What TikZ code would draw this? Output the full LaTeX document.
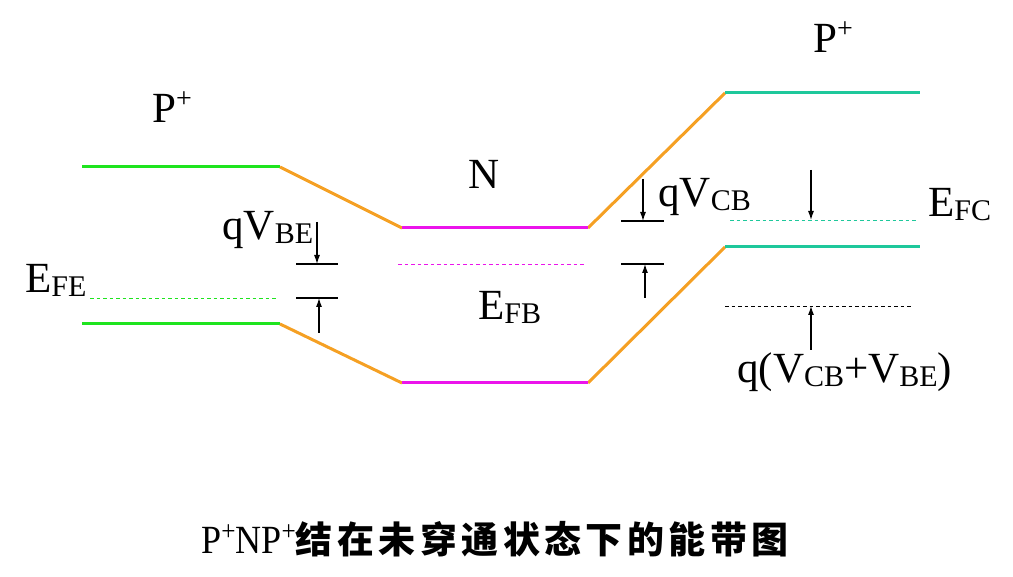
\documentclass[tikz,border=0pt]{standalone}
\usepackage{fontspec}
\setmainfont{Liberation Serif}
\newfontfamily\cjk{Noto Sans CJK SC}
\usetikzlibrary{arrows.meta}
\definecolor{bandgreen}{RGB}{30,228,30}
\definecolor{bandorange}{RGB}{245,160,35}
\definecolor{bandmagenta}{RGB}{235,20,235}
\definecolor{bandteal}{RGB}{30,200,155}
\newcommand\subtxt[1]{\raisebox{-4pt}{\fontsize{30}{30}\selectfont #1}}
\newcommand\suptxt[1]{\raisebox{15pt}{\fontsize{28}{28}\selectfont #1}}
\tikzset{every node/.style={inner sep=0pt,anchor=base west,font=\fontsize{43}{43}\selectfont}}
\tikzset{band/.style = {line width=3pt}}
\tikzset{fermi/.style = {line width=0.8pt,dash pattern=on 3.5pt off 3pt}}
\tikzset{tick/.style = {line width=1.1pt}}

\begin{document}
\begin{tikzpicture}[x=1pt,y=-1pt]
      \useasboundingbox (0,0) rectangle (1013,577);
      % conduction band edge
      \coordinate (c1) at (82,167);
      \coordinate (c2) at (280,167);
      \coordinate (c3) at (402,228);
      \coordinate (c4) at (588,228);
      \coordinate (c5) at (725,93);
      \coordinate (c6) at (920,93);
      % valence band edge
      \coordinate (v1) at (82,324);
      \coordinate (v2) at (280,324);
      \coordinate (v3) at (402,383);
      \coordinate (v4) at (588,383);
      \coordinate (v5) at (725,247);
      \coordinate (v6) at (920,247);
      % fermi levels
      \coordinate (fe1) at (90,298);
      \coordinate (fe2) at (277,298);
      \coordinate (fb1) at (398,264);
      \coordinate (fb2) at (586,264);
      \coordinate (fc1) at (730,220);
      \coordinate (fc2) at (918,220);
      \coordinate (fq1) at (725,306);
      \coordinate (fq2) at (913,306);
      % ticks and arrows
      \coordinate (t1) at (296,264);
      \coordinate (t2) at (338,264);
      \coordinate (t3) at (296,298);
      \coordinate (t4) at (338,298);
      \coordinate (t5) at (621,221);
      \coordinate (t6) at (664,221);
      \coordinate (t7) at (621,264);
      \coordinate (t8) at (664,264);
      \coordinate (a1) at (317,222);
      \coordinate (a2) at (317,264);
      \coordinate (a3) at (319,333);
      \coordinate (a4) at (319,298);
      \coordinate (a5) at (643,179);
      \coordinate (a6) at (643,221);
      \coordinate (a7) at (645,298);
      \coordinate (a8) at (645,264);
      \coordinate (a9) at (811,170);
      \coordinate (a10) at (811,220);
      \coordinate (a11) at (811,350);
      \coordinate (a12) at (811,306);

      \node (pe) at (152,123) {P\suptxt{+}};
      \node (n) at (468,189) {N};
      \node (pc) at (813,53) {P\suptxt{+}};
      \node (vbe) at (222,240) {qV\subtxt{BE}};
      \node (efe) at (25,293) {E\subtxt{FE}};
      \node (efb) at (478,320) {E\subtxt{FB}};
      \node (vcb) at (658,207) {qV\subtxt{CB}};
      \node (efc) at (928,217) {E\subtxt{FC}};
      \node (vsum) at (737,383) {q(V\subtxt{CB}+V\subtxt{BE})};
      \node[anchor=base] (cap) at (495,553) {\scalebox{0.9}[1]{\fontsize{40}{40}\selectfont P\raisebox{13pt}{\fontsize{28}{28}\selectfont+}NP\raisebox{13pt}{\fontsize{28}{28}\selectfont+}}\cjk\bfseries\fontsize{37}{37}\selectfont\addfontfeature{LetterSpace=12}结在未穿通状态下的能带图};

 \foreach \a/\b in {c1/c2,v1/v2}
   \draw[band,bandgreen] (\a) -- (\b);
 \foreach \a/\b in {c2/c3,v2/v3,c4/c5,v4/v5}
   \draw[band,bandorange] (\a) -- (\b);
 \foreach \a/\b in {c3/c4,v3/v4}
   \draw[band,bandmagenta] (\a) -- (\b);
 \foreach \a/\b in {c5/c6,v5/v6}
   \draw[band,bandteal] (\a) -- (\b);

 \draw[fermi,bandgreen] (fe1) -- (fe2);
 \draw[fermi,bandmagenta] (fb1) -- (fb2);
 \draw[fermi,bandteal] (fc1) -- (fc2);
 \draw[fermi,black] (fq1) -- (fq2);

 \foreach \a/\b in {t1/t2,t3/t4,t5/t6,t7/t8}
   \draw[tick] (\a) -- (\b);

 \foreach \a/\b in {a1/a2,a3/a4,a5/a6,a7/a8,a9/a10,a11/a12}
   \draw[tick,->,>={Latex[length=9pt,width=6pt]}] (\a) -- (\b);

    \end{tikzpicture}
\end{document}
